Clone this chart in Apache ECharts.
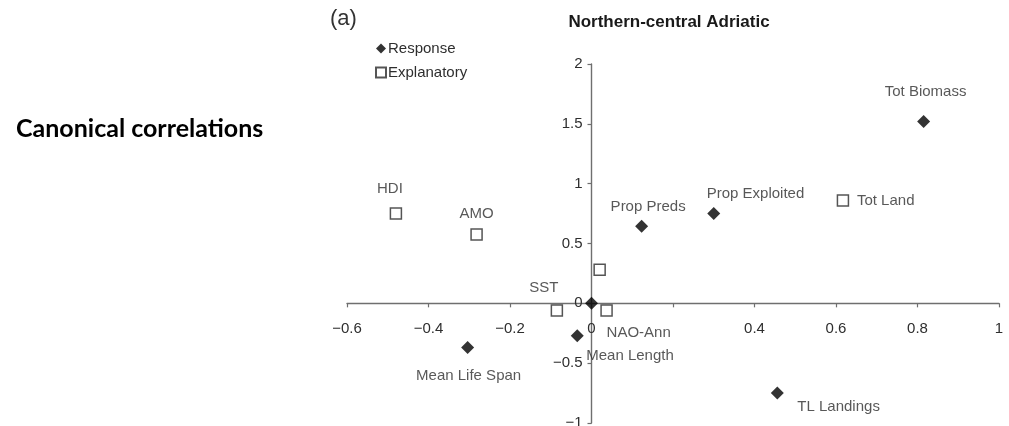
<!DOCTYPE html>
<html>
<head>
<meta charset="utf-8">
<title>Canonical correlations</title>
<script src="https://cdn.jsdelivr.net/npm/echarts@6/dist/echarts.min.js"></script>
<style>
  html, body { margin: 0; padding: 0; background: #fff; }
  #chart { width: 1009px; height: 426px; }
</style>
</head>
<body>
<div id="chart"></div>
<script>
// Canonical correlation loadings, Northern-central Adriatic
const responseNames = ['Tot Biomass', 'Prop Exploited', 'Prop Preds', '', 'Mean Length', 'Mean Life Span', 'TL Landings'];
const responseX = [0.815, 0.300, 0.123, 0.000, -0.035, -0.304, 0.456];
const responseY = [1.52, 0.75, 0.645, 0.00, -0.27, -0.37, -0.75];

const explanatoryNames = ['HDI', 'AMO', 'Tot Land', '', 'SST', 'NAO-Ann'];
const explanatoryX = [-0.480, -0.282, 0.617, 0.020, -0.085, 0.037];
const explanatoryY = [0.75, 0.575, 0.86, 0.28, -0.06, -0.06];

const xTicks = { min: -0.6, max: 1, step: 0.2 };
const yTicks = { min: -1, max: 2, step: 0.5 };
const hiddenXTickLabels = [0.2];

// where each point's name sits relative to its marker: [dx, dy, align]
const labelPlacement = {
  'Tot Biomass':    [2, -30, 'center'],
  'Prop Exploited': [-7, -20, 'left'],
  'Prop Preds':     [-31, -19, 'left'],
  'Mean Length':    [9, 20, 'left'],
  'Mean Life Span': [1, 28, 'center'],
  'TL Landings':    [20, 14, 'left'],
  'HDI':            [-6, -25, 'center'],
  'AMO':            [0, -21, 'center'],
  'Tot Land':       [14, 0, 'left'],
  'SST':            [-13, -23, 'center'],
  'NAO-Ann':        [0, 22, 'left']
};

const FONT = '"Liberation Sans", Arial, Helvetica, sans-serif';
const TEXT = '#2e2e2e';

// plot area
const GRID = { left: 347, right: 10, top: 64, bottom: 3 };
const W = 1009, H = 426;
const gridW = W - GRID.left - GRID.right;
const gridH = H - GRID.top - GRID.bottom;
// shift each axis from the grid edge onto the other axis' zero
const xAxisShift = -(0 - yTicks.min) / (yTicks.max - yTicks.min) * gridH;
const yAxisShift = -(0 - xTicks.min) / (xTicks.max - xTicks.min) * gridW;

function buildPoints(names, xs, ys) {
  return names.map((name, i) => {
    const item = { name: name, value: [xs[i], ys[i]] };
    const p = labelPlacement[name];
    if (p) {
      item.label = {
        show: true,
        formatter: name,
        position: 'inside',
        offset: [p[0], p[1]],
        align: p[2],
        verticalAlign: 'middle',
        color: TEXT,
        fontFamily: FONT,
        fontSize: 15
      };
    } else {
      item.label = { show: false };
    }
    return item;
  });
}

function tickText(v) {
  const r = Math.round(v * 100) / 100;
  if (r === 0) return '0';
  return String(r).replace('-', '\u2212');
}

const chart = echarts.init(document.getElementById('chart'), null, { renderer: 'canvas' });

const axisCommon = {
  type: 'value',
  splitLine: { show: false },
  axisLine: { show: true, onZero: false, lineStyle: { color: '#6f6f6f', width: 1.4 } },
  axisTick: { show: true, length: 4, lineStyle: { color: '#6f6f6f', width: 1.2 } },
};

chart.setOption({
  animation: false,
  backgroundColor: '#fff',
  grid: Object.assign({ outerBoundsMode: 'none', containLabel: false }, GRID),
  xAxis: Object.assign({}, axisCommon, {
    position: 'bottom',
    offset: xAxisShift,
    min: xTicks.min, max: xTicks.max, interval: xTicks.step,
    axisLabel: {
      margin: 18, color: TEXT, fontFamily: FONT, fontSize: 15,
      showMinLabel: true, showMaxLabel: true,
      formatter: v => hiddenXTickLabels.some(h => Math.abs(h - v) < 1e-9) ? '' : tickText(v)
    }
  }),
  yAxis: Object.assign({}, axisCommon, {
    position: 'left',
    offset: yAxisShift,
    min: yTicks.min, max: yTicks.max, interval: yTicks.step,
    axisLabel: {
      margin: 9, color: TEXT, fontFamily: FONT, fontSize: 15,
      showMinLabel: true, showMaxLabel: true,
      formatter: v => tickText(v)
    }
  }),
  legend: {
    orient: 'vertical',
    left: 370, top: 36,
    itemWidth: 10, itemHeight: 10, itemGap: 9,
    textStyle: { color: TEXT, fontFamily: FONT, fontSize: 15, padding: [0, 0, 0, -3] },
    data: [
      { name: 'Response', icon: 'diamond' },
      { name: 'Explanatory', icon: 'rect' }
    ]
  },
  graphic: [
    {
      type: 'text', left: 330, top: 8,
      style: { text: '(a)', font: '22px ' + FONT, fill: '#333' }
    },
    {
      type: 'text', x: 669, y: 22,
      style: { text: 'Northern-central Adriatic', font: 'bold 17px ' + FONT, fill: '#1a1a1a',
               align: 'center', verticalAlign: 'middle' }
    },
    {
      type: 'text', x: 16, y: 129,
      style: { text: 'Canonical correlations', font: 'bold 25px Lato, "Open Sans", sans-serif', fill: '#000',
               align: 'left', verticalAlign: 'middle' }
    }
  ],
  series: [
    {
      name: 'Response',
      type: 'scatter',
      symbol: 'diamond',
      symbolSize: 13,
      itemStyle: { color: '#000' },
      data: buildPoints(responseNames, responseX, responseY),
      z: 3
    },
    {
      name: 'Explanatory',
      type: 'scatter',
      symbol: 'rect',
      symbolSize: 11,
      itemStyle: { color: '#fff', borderColor: '#2a2a2a', borderWidth: 1.5 },
      data: buildPoints(explanatoryNames, explanatoryX, explanatoryY),
      z: 2
    }
  ]
});
</script>
</body>
</html>
